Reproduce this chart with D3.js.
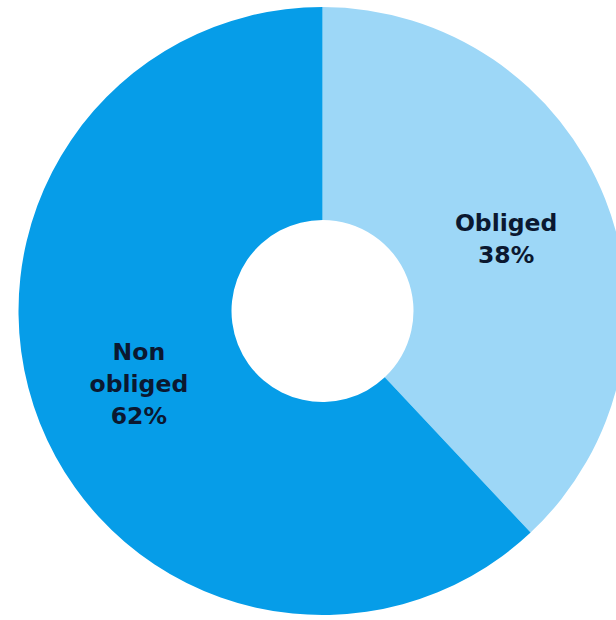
<!DOCTYPE html>
<html>
<head>
<meta charset="utf-8">
<script src="https://cdn.jsdelivr.net/npm/d3@7"></script>
<style>
html,body{margin:0;padding:0;background:#fff;overflow:hidden;}
</style>
</head>
<body>
<svg id="chart" width="616" height="620"></svg>
<script>
const categories = ["Obliged", "Non obliged"];
const labelLines = [["Obliged"], ["Non", "obliged"]];
const values = [38, 62];
const colors = ["#9dd7f7", "#069de8"];

const svg = d3.select("#chart");
const cx = 322.5, cy = 311, outerR = 304, innerR = 91;
const g = svg.append("g").attr("transform", `translate(${cx},${cy})`);

const data = categories.map((c, i) => ({cat: c, value: values[i], lines: labelLines[i], color: colors[i]}));
const pie = d3.pie().value(d => d.value).sort(null);
const arc = d3.arc().innerRadius(innerR).outerRadius(outerR);
const arcs = pie(data);

g.selectAll("path").data(arcs).join("path")
  .attr("d", arc)
  .attr("fill", d => d.data.color);

const lineH = 32;
arcs.forEach(a => {
  const [x, y] = arc.centroid(a);
  const lines = a.data.lines.concat([a.data.value + "%"]);
  const t = g.append("text")
    .attr("text-anchor", "middle")
    .attr("font-family", "Verdana, 'DejaVu Sans', sans-serif")
    .attr("font-weight", "bold")
    .attr("font-size", 23.5)
    .attr("fill", "#0b1830");
  const y0 = y - (lines.length - 1) * lineH / 2;
  lines.forEach((l, i) => {
    t.append("tspan").attr("x", x).attr("y", y0 + i * lineH).attr("dy", "0.35em").text(l);
  });
});
</script>
</body>
</html>
